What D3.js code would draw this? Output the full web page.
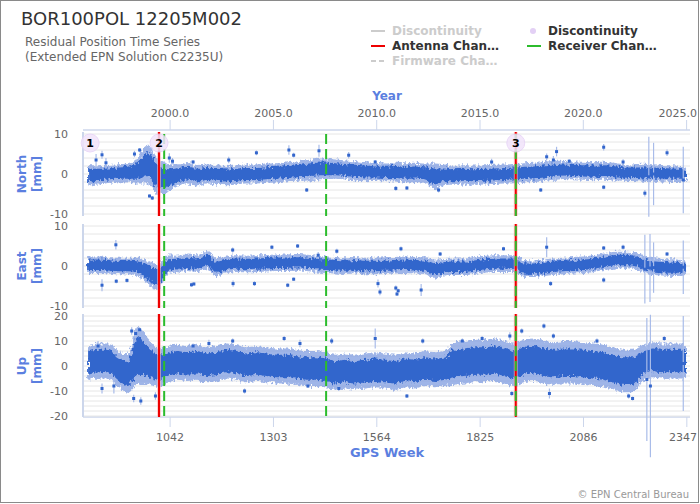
<!DOCTYPE html>
<html><head><meta charset="utf-8">
<script src="https://cdn.jsdelivr.net/npm/d3@7"></script>
<style>body{margin:0;background:#fff} svg{display:block;font-family:"DejaVu Sans",sans-serif}</style>
</head><body><svg id="c" width="700" height="504"></svg>
<script>
// ---------- DATA ----------
const title = "BOR100POL 12205M002";
const subtitle = ["Residual Position Time Series", "(Extended EPN Solution C2235U)"];
const yearTicks = [2000, 2005, 2010, 2015, 2020, 2025];
const weekTicks = [1042, 1303, 1564, 1825, 2086, 2347];

// sample weeks for the dense daily cloud (centre + half spread)
const weeks = [835,860,885,910,935,960,985,1010,1035,1060,1085,1110,1135,1160,1185,1210,1235,1260,1285,1310,
  1335,1360,1385,1410,1435,1460,1485,1510,1535,1560,1585,1610,1635,1660,1685,1710,1735,1760,1785,1810,
  1835,1860,1885,1910,1935,1960,1985,2010,2035,2060,2085,2110,2135,2160,2185,2210,2235,2260,2285,2310,2335,2345];

const northC = [-0.3,-0.2,0.0,0.2,0.3,0.8,2.5,-0.5,-1.0,-0.3, 0.2,-0.3,0.0,-0.2,-0.4,-0.2,0.0,0.0,0.2,0.3,
  0.5,0.7,0.9,1.2,1.3,1.2,1.0,0.8,0.6,0.5, 0.4,0.5,0.3,0.4,0.2,-0.6,-0.2,-0.3,-0.2,-0.3,
  -0.2,-0.1,0.0,0.1,0.3,0.4,0.6,0.9,1.0,0.9, 0.8,0.7,0.8,0.6,0.4,0.3,0.3,0.2,0.2,0.1, 0.0,0.0];
const northS = [1.6,1.5,1.4,1.4,1.5,2.0,3.0,2.8,2.2,1.7, 1.6,1.6,1.5,1.5,1.5,1.5,1.5,1.5,1.5,1.5,
  1.5,1.5,1.6,1.6,1.6,1.5,1.5,1.5,1.5,1.4, 1.4,1.5,1.5,1.5,1.5,2.0,1.6,1.5,1.5,1.5,
  1.5,1.5,1.5,1.5,1.5,1.5,1.5,1.5,1.4,1.4, 1.4,1.4,1.4,1.4,1.3,1.3,1.4,1.4,1.3,1.3, 1.2,1.0];

const eastC = [0.3,0.3,0.2,0.0,0.0,-0.2,-1.5,-2.8,0.2,0.5, 0.8,0.6,1.5,-0.3,0.3,0.6,0.5,0.6,0.7,0.8,
  0.8,0.9,0.8,0.5,0.3,0.2,0.1,0.2,0.0,0.0, 0.1,0.2,0.3,0.2,0.1,-0.8,-0.3,-0.2,-0.2,0.1,
  0.4,0.6,0.6,0.6,-0.6,-0.7,-0.5,-0.2,0.0,0.2, 0.3,0.6,1.0,1.4,1.5,1.4,0.6,-0.1,-0.3,-0.4, -0.5,-0.6];
const eastS = [1.3,1.3,1.3,1.3,1.3,1.4,1.8,2.0,1.5,1.3, 1.3,1.3,1.4,1.4,1.3,1.3,1.3,1.3,1.3,1.3,
  1.3,1.3,1.3,1.3,1.3,1.3,1.3,1.3,1.3,1.3, 1.3,1.3,1.3,1.3,1.3,1.5,1.3,1.3,1.3,1.3,
  1.3,1.3,1.3,1.3,1.3,1.3,1.3,1.3,1.3,1.3, 1.3,1.3,1.3,1.3,1.3,1.3,1.3,1.3,1.3,1.3, 1.2,1.0];

const upC = [1.5,2.0,2.0,-1.0,-3.0,4.0,2.0,-0.5,0.5,1.5, 1.0,1.5,0.5,1.0,2.0,1.5,0.5,1.0,0.5,0.0,
  0.0,-0.5,-1.0,-1.0,-1.5,-2.5,-2.0,-2.5,-2.0,-1.5, -2.0,-2.5,-1.5,-2.0,-1.0,-1.5,-1.0,1.0,1.5,2.0,
  2.0,2.5,1.5,0.5,2.0,2.5,1.5,1.0,1.5,1.5, 1.0,0.5,0.0,-1.0,-2.0,-2.0,1.0,2.5,2.0,2.0, 2.0,1.5];
const upS = [4.5,4.5,4.5,4.5,5.0,7.5,6.0,5.0,4.5,4.5, 4.5,4.5,4.5,4.5,4.5,4.5,4.5,4.5,4.5,4.5,
  4.5,4.5,4.5,4.5,4.5,4.5,4.5,4.5,4.5,4.5, 4.5,4.5,4.5,4.5,4.5,4.5,4.5,5.5,5.5,5.5,
  5.5,5.5,5.5,5.5,5.5,5.5,5.5,5.5,5.5,5.5, 5.5,5.5,5.5,5.5,5.5,5.5,4.5,4.5,4.5,4.5, 4.5,4.0];

// isolated points: [week, value, error half-width]
const northOut = [[855,3.5,1.5],[870,4.8,1.0],[880,2.8,1.2],[952,5.0,0.8],[965,6.0,0.5],[990,-5.5,0.4],[997,-6.0,0.5],
  [1040,4.0,1.2],[1048,3.2,0.8],[1100,3.0,0.5],[1190,3.5,0.8],[1260,5.3,0.6],[1342,6.0,1.2],[1354,4.7,0.6],
  [1387,-4.0,0.5],[1418,5.8,1.5],[1493,4.7,0.8],[1560,3.0,0.5],[1612,-3.6,0.6],[1640,-3.5,0.5],[1720,-4.0,0.6],
  [1854,3.0,0.8],[1978,-4.0,0.5],[1993,4.3,0.8],[2010,3.5,1.0],[2018,5.6,1.2],[2050,3.2,0.5],[2137,6.7,0.8],
  [2137,-3.3,0.5],[2186,3.0,0.7],[2241,-4.8,0.8],[2251,-0.7,10],[2263,0.0,7.8],[2297,5.3,0.8],[2338,-1.5,8.3]];
const eastOut = [[870,-4.8,1.5],[905,5.3,1.2],[906,-3.8,0.5],[933,-3.6,0.5],[997,-4.0,0.5],[1096,-4.7,0.5],[1102,-4.5,0.4],
  [1200,4.0,0.6],[1201,-4.4,0.8],[1255,-4.4,0.6],[1299,4.7,0.5],[1339,-4.8,0.5],[1354,-3.3,0.4],[1364,5.0,0.5],
  [1416,2.7,0.8],[1463,3.7,0.6],[1567,-4.4,1.0],[1572,-6.5,0.8],[1612,-5.5,0.6],[1615,-7.0,0.5],[1618,-6.2,0.5],
  [1625,4.3,0.6],[1676,-6.0,1.5],[1724,3.0,0.5],[1884,4.3,0.5],[1993,4.7,2.5],[2003,-4.4,0.6],[2137,4.5,0.5],
  [2137,-3.5,0.6],[2186,4.7,0.6],[2241,-0.8,8.6],[2254,-0.5,8.5],[2263,-0.4,6.3],[2297,3.0,0.5],[2338,-0.3,6.7]];
const upOut = [[860,8.0,2.0],[870,-9.0,2.0],[900,-8.0,3.0],[945,14.0,1.5],[950,-13.0,1.5],[955,13.0,2.0],[965,14.5,1.0],
  [968,-14.0,1.5],[1005,-12.0,1.5],[1100,8.0,1.0],[1140,9.0,1.5],[1200,10.0,1.0],[1230,-10.0,1.0],[1330,11.0,1.0],
  [1370,9.0,1.5],[1390,-8.0,0.8],[1450,10.0,1.2],[1468,-9.0,1.0],[1560,11.0,4.0],[1640,-12.0,0.8],[1680,10.0,1.0],
  [1780,10.0,1.0],[1830,11.0,1.0],[1900,12.0,1.5],[1905,-11.0,1.0],[1930,14.0,1.0],[1986,16.0,1.0],[2000,-11.0,2.0],
  [2010,12.0,1.0],[2120,10.0,1.0],[2200,-12.0,1.0],[2210,-13.0,0.8],[2246,-5.4,24.6],[2255,-8.0,28.5],[2290,11.0,1.0],
  [2338,1.0,19.0]];

// events (GPS week)
const antennaWeeks = [1014, 1915];
const receiverWeeks = [1027, 1436, 1915];
const discontinuities = [{n:"1", w:840}, {n:"2", w:1014}, {n:"3", w:1915}];
const legendItems = [
  {label:"Discontinuity", kind:"line", color:"#cccccc", active:false, col:0, row:0},
  {label:"Discontinuity", kind:"dot", color:"#e3d0f5", active:true, col:1, row:0},
  {label:"Antenna Chan…", kind:"line", color:"#ee0000", active:true, col:0, row:1},
  {label:"Receiver Chan…", kind:"line", color:"#2cbc2c", active:true, col:1, row:1},
  {label:"Firmware Cha…", kind:"dash", color:"#cccccc", active:false, col:0, row:2}
];

// ---------- DRAWING ----------
const svg = d3.select("#c");
svg.append("rect").attr("x",0.5).attr("y",0.5).attr("width",698).attr("height",502)
  .attr("fill","#fff").attr("stroke","#8a8a8a");

// texture filter that gives the dense cloud a grainy, scattered edge
const defs = svg.append("defs");
const f = defs.append("filter").attr("id","grain").attr("x","-5%").attr("y","-20%").attr("width","110%").attr("height","140%");
f.append("feTurbulence").attr("type","fractalNoise").attr("baseFrequency","0.45 0.25").attr("numOctaves",2).attr("seed",3).attr("result","n");
f.append("feDisplacementMap").attr("in","SourceGraphic").attr("in2","n").attr("scale",7)
  .attr("xChannelSelector","R").attr("yChannelSelector","G");

const blue = "#3366cc", errC = "#a9bce9", axisC = "#ccd6eb", titleBlue = "#5b7fe0";
const x = d3.scaleLinear().domain([822, 2355]).range([83, 690]);
const weekOfYear = y => 1042 + (y - 2000) * 52.1775;

svg.append("text").attr("x",21).attr("y",25).attr("font-size",18).attr("fill","#333").text(title);
subtitle.forEach((s,i)=> svg.append("text").attr("x",25).attr("y",46+i*15).attr("font-size",12)
  .attr("fill","#666").text(s));

// legend
const lg = svg.append("g");
legendItems.forEach(it=>{
  const gx = it.col===0 ? 371 : 527, gy = 31 + it.row*15;
  if (it.kind==="dot") lg.append("circle").attr("cx",gx+6).attr("cy",gy).attr("r",3).attr("fill",it.color);
  else lg.append("line").attr("x1",gx).attr("x2",gx+14).attr("y1",gy).attr("y2",gy)
      .attr("stroke",it.color).attr("stroke-width",2).attr("stroke-dasharray", it.kind==="dash"?"5,3":null);
  lg.append("text").attr("x", gx+21).attr("y", gy).attr("dy","0.35em").attr("font-size",12)
    .attr("font-weight","bold").attr("fill", it.active?"#333":"#cccccc").text(it.label);
});

// top axis (years)
svg.append("text").attr("x",387).attr("y",100).attr("text-anchor","middle").attr("font-size",12)
  .attr("font-weight","bold").attr("fill",titleBlue).text("Year");
svg.append("line").attr("x1",83).attr("x2",690).attr("y1",130).attr("y2",130).attr("stroke",axisC).attr("stroke-width",1.5);
yearTicks.forEach((y,i)=>{
  const px = x(weekOfYear(y));
  const last = i===yearTicks.length-1;
  svg.append("line").attr("x1",px).attr("x2",px).attr("y1",120).attr("y2",130).attr("stroke",axisC);
  svg.append("text").attr("x",last?697:px).attr("y",117).attr("text-anchor",last?"end":"middle").attr("font-size",11)
    .attr("fill","#666").text(y.toFixed(1));
});

// bottom axis (GPS week)
svg.append("line").attr("x1",83).attr("x2",690).attr("y1",417).attr("y2",417).attr("stroke",axisC).attr("stroke-width",1.5);
weekTicks.forEach((w,i)=>{
  const px = x(w);
  const last = i===weekTicks.length-1;
  svg.append("line").attr("x1",px).attr("x2",px).attr("y1",417).attr("y2",427).attr("stroke",axisC);
  svg.append("text").attr("x",last?697:px).attr("y",441).attr("text-anchor",last?"end":"middle").attr("font-size",11)
    .attr("fill","#666").text(w);
});
svg.append("text").attr("x",387).attr("y",457).attr("text-anchor","middle").attr("font-size",13)
  .attr("font-weight","bold").attr("fill",titleBlue).text("GPS Week");

const panels = [
  {name:"North", c:northC, s:northS, out:northOut, dom:[-10,10], rng:[214,134], ticks:[-10,0,10], top:132, bot:216, k:1.6},
  {name:"East",  c:eastC,  s:eastS,  out:eastOut,  dom:[-10,10], rng:[306,226], ticks:[-10,0,10], top:224, bot:308, k:1.6},
  {name:"Up",    c:upC,    s:upS,    out:upOut,    dom:[-20,20], rng:[416,316], ticks:[-20,-10,0,10,20], top:314, bot:417, k:1.55}
];

panels.forEach((p,pi)=>{
  const y = d3.scaleLinear().domain(p.dom).range(p.rng);
  const g = svg.append("g");
  // grid
  d3.range(p.dom[0], p.dom[1]+0.01, 2).forEach(v=>{
    g.append("line").attr("x1",83).attr("x2",690).attr("y1",y(v)).attr("y2",y(v))
      .attr("stroke","#e6e6e6").attr("stroke-width",1);
  });
  g.append("line").attr("x1",83).attr("x2",83).attr("y1",p.top).attr("y2",p.bot).attr("stroke",axisC).attr("stroke-width",2);
  p.ticks.forEach(v=>{
    g.append("text").attr("x",68).attr("y",y(v)).attr("dy","0.35em").attr("text-anchor","end")
      .attr("font-size",11).attr("fill","#666").text(v);
  });
  const cy = (p.rng[0]+p.rng[1])/2;
  const tt = g.append("text").attr("transform",`translate(22,${cy}) rotate(-90)`).attr("text-anchor","middle")
    .attr("font-size",12).attr("font-weight","bold").attr("fill",titleBlue);
  tt.append("tspan").attr("x",0).attr("dy","0.35em").text(p.name);
  tt.append("tspan").attr("x",0).attr("dy","1.25em").text("[mm]");

  const clipId = "clip"+pi;
  defs.append("clipPath").attr("id",clipId).append("rect").attr("x",85).attr("y",p.top).attr("width",604).attr("height",p.bot-p.top);
  const data = weeks.map((w,i)=>({w, c:p.c[i], s:p.s[i]}));
  const outer = d3.area().x(d=>x(d.w)).y0(d=>y(d.c - d.s*p.k)).y1(d=>y(d.c + d.s*p.k)).curve(d3.curveMonotoneX);
  const inner = d3.area().x(d=>x(d.w)).y0(d=>y(d.c - d.s)).y1(d=>y(d.c + d.s)).curve(d3.curveMonotoneX);
  const dg = g.append("g").attr("clip-path",`url(#${clipId})`).append("g").attr("filter","url(#grain)");
  dg.append("path").datum(data).attr("d",outer).attr("fill","#87a2e2").attr("opacity",0.8);
  dg.append("path").datum(data).attr("d",inner).attr("fill",blue);

  // isolated points with error bars
  p.out.forEach(([w,v,e])=>{
    g.append("line").attr("x1",x(w)).attr("x2",x(w)).attr("y1",y(v-e)).attr("y2",y(v+e))
      .attr("stroke",errC).attr("stroke-width",1.2);
    g.append("rect").attr("x",x(w)-1.5).attr("y",y(v)-1.5).attr("width",3).attr("height",3).attr("fill",blue);
  });

  // events
  antennaWeeks.forEach(w=>{
    g.append("line").attr("x1",x(w)).attr("x2",x(w)).attr("y1",p.top).attr("y2",p.bot)
      .attr("stroke","#ffb3b3").attr("stroke-width",4).attr("opacity",0.6);
    g.append("line").attr("x1",x(w)).attr("x2",x(w)).attr("y1",p.top).attr("y2",p.bot)
      .attr("stroke","#ee0000").attr("stroke-width",2);
  });
  receiverWeeks.forEach(w=>{
    g.append("line").attr("x1",x(w)).attr("x2",x(w)).attr("y1",p.top+2).attr("y2",p.bot)
      .attr("stroke","#2cbc2c").attr("stroke-width",2).attr("stroke-dasharray","10,5");
  });
  if (pi===0) {
    discontinuities.forEach(d=>{
      g.append("circle").attr("cx",x(d.w)).attr("cy",143).attr("r",9).attr("fill","#f1e3fb").attr("opacity",0.85)
        .attr("stroke","#e6d2f6");
      g.append("text").attr("x",x(d.w)).attr("y",143).attr("dy","0.36em").attr("text-anchor","middle")
        .attr("font-size",11).attr("font-weight","bold").attr("fill","#000").text(d.n);
    });
  }
});

svg.append("text").attr("x",689).attr("y",498).attr("text-anchor","end").attr("font-size",10)
  .attr("fill","#999").text("© EPN Central Bureau");
</script></body></html>
